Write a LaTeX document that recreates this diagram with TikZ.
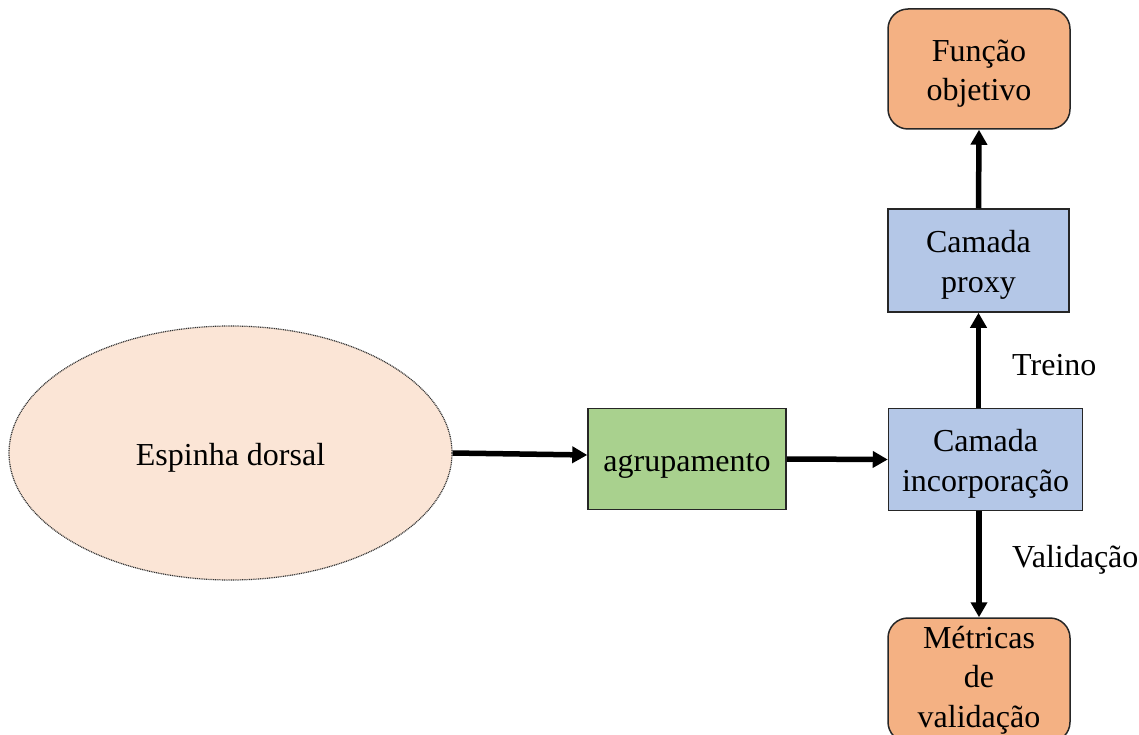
\documentclass[tikz,border=0pt]{standalone}
\usepackage{fontspec}
\setmainfont{Liberation Serif}
\usetikzlibrary{arrows.meta,shapes.geometric}
\definecolor{orangefill}{HTML}{F4B183}
\definecolor{bluefill}{HTML}{B4C7E7}
\definecolor{greenfill}{HTML}{A9D18E}
\definecolor{ellfill}{HTML}{FBE5D6}
\newcommand{\pushdown}{\rule{0pt}{31pt}}
\tikzset{
  boxbase/.style={draw=black!85, line width=1.5pt, inner sep=0pt, align=center,
    font=\fontsize{32}{39.5}\selectfont},
  bluebox/.style={boxbase, rectangle, fill=bluefill},
  greenbox/.style={boxbase, rectangle, fill=greenfill},
  orangebox/.style={boxbase, rectangle, rounded corners=20pt, fill=orangefill},
  conn/.style={line width=5.5pt, -{Triangle[length=15pt,width=16pt]}},
  lbl/.style={font=\fontsize{32}{39}\selectfont, anchor=base west, inner sep=0pt}
}
\begin{document}
\begin{tikzpicture}[x=1pt,y=-1pt]
\useasboundingbox (0,0) rectangle (1139,735);
\clip (0,0) rectangle (1139,735);
\node[ellipse, draw=black!80, line width=1.2pt, dash pattern=on 1pt off 0.8pt,
  fill=ellfill, minimum width=443pt, minimum height=254pt, inner sep=0pt,
  font=\fontsize{32}{39}\selectfont] (esp) at (230.5,453) {\pushdown Espinha dorsal};
\node[greenbox, minimum width=198pt, minimum height=101pt] (agr) at (687,459) {\pushdown agrupamento};
\node[bluebox, minimum width=194pt, minimum height=102pt] (inc) at (985.5,459.5) {\pushdown Camada\\incorporação};
\node[bluebox, minimum width=181pt, minimum height=103pt] (prx) at (978.5,260.5) {\pushdown Camada\\proxy};
\node[orangebox, minimum width=182pt, minimum height=120pt] (fun) at (979,69) {\pushdown Função\\objetivo};
\node[orangebox, minimum width=182pt, minimum height=124pt] (met) at (979,680) {Métricas\\de\\validação};
\draw[conn] (esp.east) -- ([yshift=4pt]agr.west);
\draw[conn] (agr.east) -- (inc.west);
\draw[conn] (inc.north -| prx.south) -- (prx.south);
\draw[conn] (prx.north) -- (fun.south);
\draw[conn] (inc.south -| met.north) -- (met.north);
\node[lbl] (tr) at (1012,375) {Treino};
\node[lbl] (va) at (1012,567) {Validação};
\end{tikzpicture}
\end{document}
